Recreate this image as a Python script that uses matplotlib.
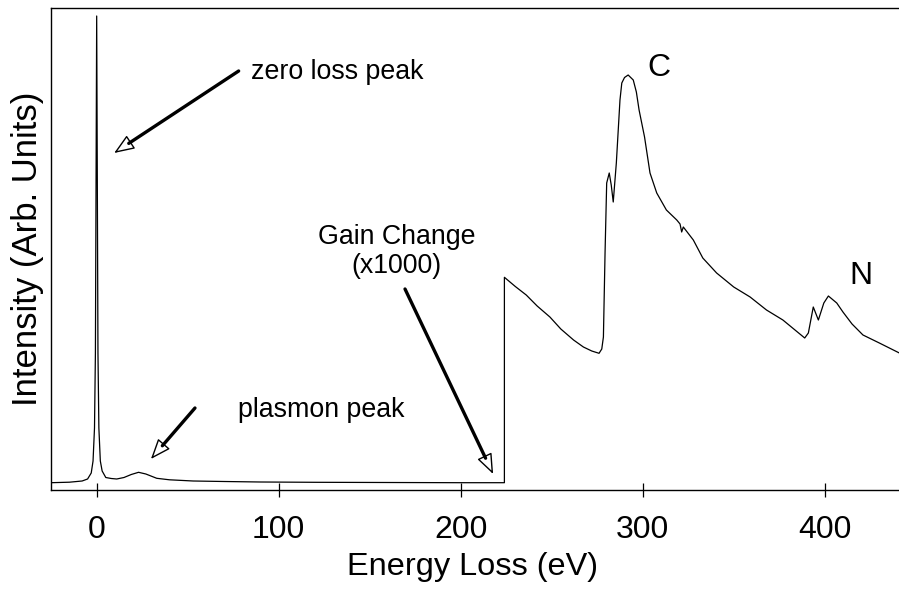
import matplotlib.pyplot as plt

plt.rcParams["font.family"] = ["Liberation Sans", "DejaVu Sans"]

# low-loss part of the spectrum (gain x1)
low_ev = [-25, -15, -8, -5, -3, -2, -1.2, -0.7, -0.35, 0, 0.35, 0.7, 1.2, 2, 3, 5, 8, 11,
          15, 19, 23, 27, 33, 40, 53, 70, 90, 120, 160, 200, 224]
low_int = [0.3, 0.8, 2, 4, 10, 22, 55, 130, 300, 467, 300, 130, 55, 22, 12, 5.5, 4.5, 4,
           5.5, 8.5, 10.7, 9, 4.7, 3.2, 2, 1.5, 1, 0.7, 0.5, 0.3, 0.3]

# core-loss part after the x1000 gain change (C and N K-edges)
core_ev = [224, 230, 236, 242, 249, 255, 262, 267.4, 272, 276, 277.5, 278.4, 279.3, 280.2,
           281.6, 282.7, 283.8, 285.5, 287.5, 288.5, 290, 292, 294.8, 296.5, 298, 301, 304,
           307.7, 313, 318.7, 320.5, 321.4, 322.3, 327.8, 333, 340.6, 350, 359, 368, 377,
           385, 389, 391, 393.7, 396.5, 399.5, 402, 406.6, 410, 415, 421, 430, 441]
core_int = [205.7, 196.5, 188, 177, 166, 154, 143, 136, 132, 129.7, 134, 146, 230, 300,
            310, 298, 281, 320, 383, 400, 405.5, 408, 403, 391, 373, 346, 310,
            290, 273, 263, 259, 251, 256, 243, 225, 210, 196, 186, 173, 163,
            151, 145, 150, 176, 163, 180, 187, 180, 171, 159, 148, 140, 130]

x_ticks = [0, 100, 200, 300, 400]

HEAD_LEN = 1.26
HEAD_W = 0.49


def hollow_arrow(ax, tail, tip):
    # thin outline arrow with a white head, then the thick shaft on top
    ax.annotate(
        "", xy=tip, xytext=tail,
        arrowprops=dict(arrowstyle=f"-|>,head_length={HEAD_LEN},head_width={HEAD_W}",
                        lw=1.0, fc="white", ec="black", mutation_scale=10,
                        shrinkA=0, shrinkB=0),
    )
    ax.annotate(
        "", xy=tip, xytext=tail,
        arrowprops=dict(arrowstyle="-", lw=2.4, color="black",
                        shrinkA=0, shrinkB=HEAD_LEN * 10),
    )


fig = plt.figure(figsize=(8.99, 5.89), dpi=100)
ax = fig.add_axes([51 / 899, 99 / 589, 848 / 899, 482 / 589])

ax.plot(low_ev + core_ev, low_int + core_int, color="black", lw=0.9)

ax.set_xlim(-25.1, 440.8)
ax.set_ylim(-7, 475)
ax.set_yticks([])
ax.set_xticks(x_ticks)
ax.tick_params(axis="x", direction="inout", length=10, width=0.9, labelsize=23, pad=13.2)
ax.spines["right"].set_visible(False)
for side in ["left", "top", "bottom"]:
    ax.spines[side].set_linewidth(1.0)

ax.set_xlabel("Energy Loss (eV)", fontsize=23.4)
ax.xaxis.set_label_coords(0.497, -0.128)
ax.set_ylabel("Intensity (Arb. Units)", fontsize=25)
ax.yaxis.set_label_coords(-0.0085, 0.5)

hollow_arrow(ax, (78, 412), (9.6, 330))
ax.text(84.6, 404, "zero loss peak", fontsize=19.3, va="baseline", ha="left")

hollow_arrow(ax, (54, 75), (29.8, 24))
ax.text(77.8, 65.7, "plasmon peak", fontsize=19.3, va="baseline", ha="left")

hollow_arrow(ax, (169.4, 194), (217.8, 9))
ax.text(164.8, 239, "Gain Change", fontsize=19.3, va="baseline", ha="center")
ax.text(164.8, 210, "(x1000)", fontsize=19.3, va="baseline", ha="center")

ax.text(309, 415, "C", fontsize=23, va="center", ha="center")
ax.text(420, 207, "N", fontsize=23, va="center", ha="center")

fig.savefig("out.png", dpi=100)
